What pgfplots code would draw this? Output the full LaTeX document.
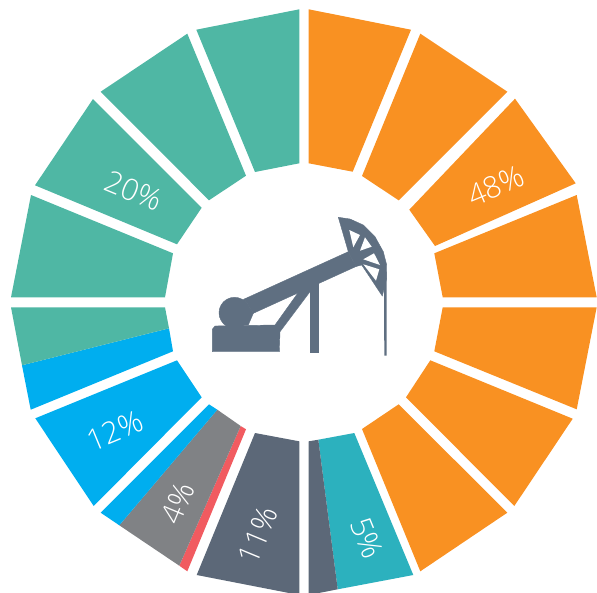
\documentclass[border=0pt]{standalone}
\usepackage{pgfplots}
\pgfplotsset{compat=1.18}
\usepackage{fontspec}
\setmainfont{Open Sans Light}
\definecolor{org}{HTML}{F99122}
\definecolor{grn}{HTML}{4FB7A4}
\definecolor{blu}{HTML}{00AEEF}
\definecolor{gry}{HTML}{808285}
\definecolor{red2}{HTML}{F15B60}
\definecolor{slt}{HTML}{5C6878}
\definecolor{tea}{HTML}{2CB1BE}
\definecolor{ico}{HTML}{5F6F81}
\tikzset{lab/.style={text=white,font=\fontsize{30}{30}\selectfont,inner sep=0pt},
  icn/.style={fill=ico,draw=ico,line width=0.4pt}}
\begin{document}
\begin{tikzpicture}
\begin{axis}[hide axis,x=1pt,y=1pt,y dir=reverse,xmin=0,xmax=597,ymin=0,ymax=592,
  scale only axis,clip=true,
  every axis plot/.append style={draw=none,mark=none}]
% right half
\addplot[fill=org] coordinates {(308.7,9.3)(411,29.7)(352.7,171.7)(308.7,163.3)} --cycle;
\addplot[fill=org] coordinates {(420.3,33.7)(507.3,91.7)(398.7,200.3)(362,176)} --cycle;
\addplot[fill=org] coordinates {(515,98.7)(575.7,183.3)(435,246)(409.3,209.7)} --cycle;
\addplot[fill=org] coordinates {(576.7,195)(596.7,297.3)(442.7,297.3)(434.3,253.3)} --cycle;
\addplot[fill=org] coordinates {(442.7,307.3)(596.7,307.3)(576.7,409.3)(434.3,351.3)} --cycle;
\addplot[fill=org] coordinates {(430.3,360.3)(572.7,418.7)(514.3,506)(406,397.3)} --cycle;
\addplot[fill=org] coordinates {(398.7,404.3)(507.3,512.7)(420.3,571.3)(362,429)} --cycle;
\addplot[fill=tea] coordinates {(354.3,433)(413.3,575)(337.7,589.3)(318.3,439.7)} --cycle;
\addplot[fill=slt] coordinates {(308.7,441.3)(318.3,439.7)(337.7,589.3)(308.7,595)} --cycle;
% left half, bottom
\addplot[fill=slt] coordinates {(255,433)(299.3,441.3)(299.3,595)(196.7,575)} --cycle;
\addplot[fill=red2] coordinates {(240.7,426)(246,429.3)(187.3,571.3)(179.3,565.7)} --cycle;
\addplot[fill=gry] coordinates {(217.3,409.7)(240.7,426)(179.3,565.7)(119.3,525.3)} --cycle;
\addplot[fill=blu] coordinates {(209,404.3)(217.3,409.7)(119.3,525.3)(100.7,512.7)} --cycle;
\addplot[fill=blu] coordinates {(177,360.3)(201.7,397.3)(93.7,506)(35.3,418.3)} --cycle;
\addplot[fill=blu] coordinates {(169,328.3)(173,351.3)(30.7,409.7)(22,365.3)} --cycle;
\addplot[fill=grn] coordinates {(11,307.3)(165,307.3)(169,328.3)(22,365.3)} --cycle;
% left half, top
\addplot[fill=grn] coordinates {(31,195)(173,253.3)(165,297.3)(11,297.3)} --cycle;
\addplot[fill=grn] coordinates {(93,99)(201.7,207.7)(177,244.3)(35,185.3)} --cycle;
\addplot[fill=grn] coordinates {(100.7,91.7)(187.3,33.7)(246,175.7)(209,200.3)} --cycle;
\addplot[fill=grn] coordinates {(196.3,29.7)(299.3,9.3)(299.3,163.3)(255,172)} --cycle;
% pump jack
\addplot[icn] coordinates {(212.3,351.7)(212.3,329.3)(215,326)(275,325)(300,290)(310,286)(310,291.7)(280,331.7)(279.3,351.7)} --cycle;
\addplot[icn] coordinates {(310,280)(317.7,280)(317.7,351.7)(310,351.7)} --cycle;
\addplot[icn] coordinates {(244.3,299)(348.3,251.7)(356,266.5)(253.3,313.3)} --cycle;
\addplot[icn] coordinates {(253.3,313.3)(248.3,325)(236,326)(236,305)(244.3,299)} --cycle;
\addplot[icn] coordinates {(250,312.8)(249.5,316.8)(247.9,320.5)(245.5,323.8)(242.3,326.2)(238.5,327.8)(234.5,328.3)(230.5,327.8)(226.8,326.2)(223.5,323.8)(221.1,320.5)(219.5,316.8)(219,312.8)(219.5,308.8)(221.1,305.1)(223.5,301.8)(226.8,299.4)(230.5,297.8)(234.5,297.3)(238.5,297.8)(242.3,299.4)(245.5,301.8)(247.9,305.1)(249.5,308.8)} --cycle;
\addplot[icn] coordinates {(338.3,217.3)(350,219)(363.3,225)(375,236.7)(383.3,251.7)(386.7,265)(386.7,278.3)(382.3,296)(361.7,265)(356,266.5)(348.3,251.7)} --cycle;
\addplot[fill=white] coordinates {(349.3,230)(360,235)(353.3,247.3)} --cycle;
\addplot[fill=white] coordinates {(365,237.3)(371.7,246.7)(360,250.7)} --cycle;
\addplot[fill=white] coordinates {(374,253.3)(380,265)(363.3,259.3)} --cycle;
\addplot[fill=white] coordinates {(363.3,264.3)(379.3,269.3)(376,280.7)} --cycle;
\addplot[fill=ico] coordinates {(384,271.7)(386.7,271.7)(386.7,355.7)(384.3,355.7)} --cycle;
% labels
\node[lab,rotate=22.5] at (axis cs:496,186) {48\%};
\node[lab,rotate=-22.5] at (axis cs:134,191) {20\%};
\node[lab,rotate=22.5] at (axis cs:115,431) {12\%};
\node[lab,rotate=67.5] at (axis cs:178,503) {4\%};
\node[lab,rotate=67.5] at (axis cs:258,535) {11\%};
\node[lab,rotate=-67.5] at (axis cs:367,538) {5\%};
\end{axis}
\path (current axis.south west) rectangle (current axis.north east);
\end{tikzpicture}
\end{document}
